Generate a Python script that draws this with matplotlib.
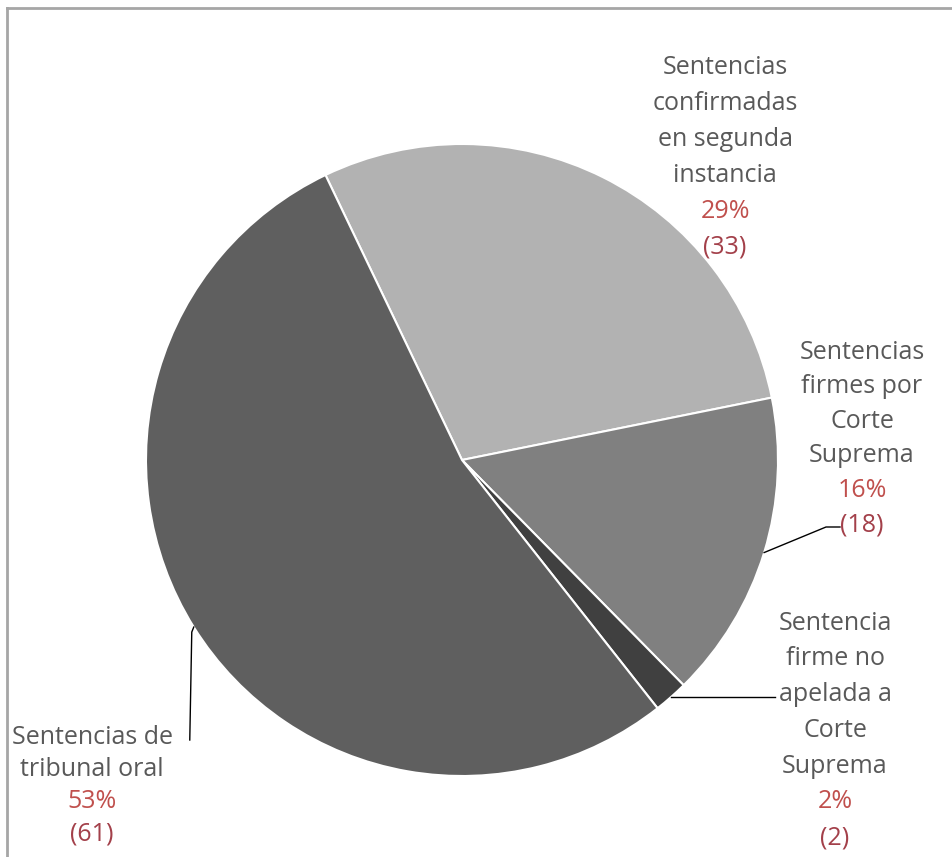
import matplotlib.pyplot as plt
import numpy as np

# datos del grafico
valores = [33, 18, 2, 61]
nombres = [
    ["Sentencias", "confirmadas", "en segunda", "instancia"],
    ["Sentencias", "firmes por", "Corte", "Suprema"],
    ["Sentencia", "firme no", "apelada a", "Corte", "Suprema"],
    ["Sentencias de", "tribunal oral"],
]
porcentajes = ["29%", "16%", "2%", "53%"]
colores = ["#b2b2b2", "#808080", "#404040", "#5f5f5f"]

W, H = 952, 857
fig = plt.figure(figsize=(W / 100, H / 100), dpi=100)
ax = fig.add_axes([0, 0, 1, 1])

cx, cy, r = 462, H - 460, 316
start = 115.6
ax.pie(valores, colors=colores, startangle=start, counterclock=False,
       center=(cx, cy), radius=r, frame=True,
       wedgeprops=dict(edgecolor="white", linewidth=1.5))
ax.set_xlim(0, W)
ax.set_ylim(0, H)
ax.set_aspect("equal")
ax.axis("off")

# posicion de las etiquetas (centro x, y de la primera linea en pixeles) y paso
pos = [(725, 67, 36), (862, 352, 34.5), (835, 623, 35.8), (92, 738, 32)]
gris = "#595959"
rojo = "#c0504d"
rojo_osc = "#a3404a"
fuente = "Open Sans"

for i, v in enumerate(valores):
    x, y0, paso = pos[i]
    lineas = nombres[i] + [porcentajes[i], "(%d)" % v]
    for k, t in enumerate(lineas):
        if k < len(nombres[i]):
            c = gris
        elif k == len(nombres[i]):
            c = rojo
        else:
            c = rojo_osc
        ax.text(x, H - (y0 + k * paso), t, ha="center", va="center",
                fontsize=18, color=c, family=fuente)

# lineas guia desde el borde del sector
acum = np.cumsum([0] + valores)
total = sum(valores)
def borde(i):
    ang = np.radians(start - (acum[i] + valores[i] / 2) / total * 360)
    return cx + r * np.cos(ang), cy + r * np.sin(ang)

x1, y1 = borde(1)
ax.plot([x1, 826, 840], [y1, H - 527, H - 527], color="black", lw=1)
x2, y2 = borde(2)
ax.plot([x2, 775], [y2, y2], color="black", lw=1)
x3, y3 = borde(3)
ax.plot([x3, x3 - 2, x3 - 4], [y3, y3 - 5, H - 740], color="black", lw=1)

# marco gris arriba y a la izquierda
ax.plot([7, W], [H - 8, H - 8], color="#a6a6a6", lw=2, clip_on=False)
ax.plot([7, 7], [H - 8, 0], color="#a6a6a6", lw=2, clip_on=False)

fig.savefig("out.png", dpi=100)
